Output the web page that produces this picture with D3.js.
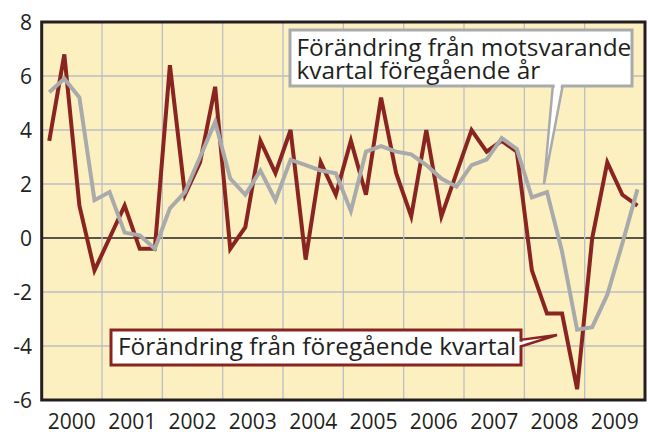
<!DOCTYPE html>
<html>
<head>
<meta charset="utf-8">
<script src="https://d3js.org/d3.v7.min.js"></script>
<style>
  body { margin: 0; background: #fff; }
  svg { display: block; font-family: "Open Sans", sans-serif; }
</style>
</head>
<body>
<div id="chart"></div>
<script>
// Data: quarterly change (%), 2000 Q1 - 2009 Q4
const years = [2000, 2001, 2002, 2003, 2004, 2005, 2006, 2007, 2008, 2009];
const yTicks = [-6, -4, -2, 0, 2, 4, 6, 8];

// Förändring från föregående kvartal
const quarterChange = [
  3.6, 6.8, 1.2, -1.2,
  0.0, 1.2, -0.4, -0.4,
  6.4, 1.6, 2.8, 5.6,
  -0.4, 0.4, 3.6, 2.4,
  4.0, -0.8, 2.8, 1.6,
  3.6, 1.6, 5.2, 2.4,
  0.8, 4.0, 0.8, 2.4,
  4.0, 3.2, 3.6, 3.2,
  -1.2, -2.8, -2.8, -5.6,
  0.0, 2.8, 1.6, 1.2
];

// Förändring från motsvarande kvartal föregående år
const yearChange = [
  5.4, 5.9, 5.2, 1.4,
  1.7, 0.2, 0.1, -0.4,
  1.1, 1.7, 3.0, 4.3,
  2.2, 1.6, 2.5, 1.4,
  2.9, 2.7, 2.5, 2.4,
  1.0, 3.2, 3.4, 3.2,
  3.1, 2.7, 2.2, 1.9,
  2.7, 2.9, 3.7, 3.3,
  1.5, 1.7, -0.5, -3.4,
  -3.3, -2.1, -0.2, 1.8
];

const labelQuarter = "Förändring från föregående kvartal";
const labelYearLines = ["Förändring från motsvarande", "kvartal föregående år"];

const width = 648, height = 434;
const margin = { top: 22, right: 3, bottom: 34, left: 41.7 };

const svg = d3.select("#chart").append("svg")
  .attr("width", width)
  .attr("height", height);

const x = d3.scaleLinear()
  .domain([2000, 2010])
  .range([margin.left, width - margin.right]);

const y = d3.scaleLinear()
  .domain([-6, 8])
  .range([height - margin.bottom, margin.top]);

const tq = i => 2000 + (i + 0.5) / 4;

// background
svg.append("rect")
  .attr("x", x(2000)).attr("y", y(8))
  .attr("width", x(2010) - x(2000))
  .attr("height", y(-6) - y(8))
  .attr("fill", "#fdf0c0");

// grid
svg.append("g")
  .selectAll("line")
  .data(yTicks)
  .enter().append("line")
  .attr("x1", x(2000)).attr("x2", x(2010))
  .attr("y1", d => y(d)).attr("y2", d => y(d))
  .attr("stroke", d => d === 0 ? "#231f20" : "#bcbec6")
  .attr("stroke-width", 1.3);

svg.append("g")
  .selectAll("line")
  .data(years.slice(1))
  .enter().append("line")
  .attr("x1", d => x(d)).attr("x2", d => x(d))
  .attr("y1", y(8)).attr("y2", y(-6))
  .attr("stroke", "#bcbec6")
  .attr("stroke-width", 1.3);

// lines
const line = d3.line()
  .x((d, i) => x(tq(i)))
  .y(d => y(d));

svg.append("path")
  .datum(quarterChange)
  .attr("d", line)
  .attr("fill", "none")
  .attr("stroke", "#8a2421")
  .attr("stroke-width", 4)
  .attr("stroke-linejoin", "miter");

svg.append("path")
  .datum(yearChange)
  .attr("d", line)
  .attr("fill", "none")
  .attr("stroke", "#a9aaac")
  .attr("stroke-width", 4)
  .attr("stroke-linejoin", "miter");

// frame
svg.append("rect")
  .attr("x", x(2000)).attr("y", y(8))
  .attr("width", x(2010) - x(2000))
  .attr("height", y(-6) - y(8))
  .attr("fill", "none")
  .attr("stroke", "#231f20")
  .attr("stroke-width", 3);

// axes labels
svg.append("g")
  .selectAll("text")
  .data(yTicks)
  .enter().append("text")
  .attr("x", 32)
  .attr("y", d => y(d))
  .attr("dy", "0.36em")
  .attr("text-anchor", "end")
  .attr("font-size", "21px")
  .attr("fill", "#231f20")
  .text(d => d);

svg.append("g")
  .selectAll("text")
  .data(years)
  .enter().append("text")
  .attr("x", d => x(d + 0.5))
  .attr("y", 429)
  .attr("text-anchor", "middle")
  .attr("font-size", "21px")
  .attr("fill", "#231f20")
  .text(d => d);

// callout: year-on-year
const g1 = svg.append("g");
g1.append("path")
  .attr("d", "M553,84 L563,84 L544,184 Z")
  .attr("fill", "#fff")
  .attr("stroke", "#a9aaac")
  .attr("stroke-width", 2.5);
g1.append("rect")
  .attr("x", 290).attr("y", 30)
  .attr("width", 342).attr("height", 56)
  .attr("fill", "#fff")
  .attr("stroke", "#a9aaac")
  .attr("stroke-width", 3);
g1.append("path")
  .attr("d", "M554.5,83 L561.5,83 L560,89 L555,89 Z")
  .attr("fill", "#fff");
g1.selectAll("text")
  .data(labelYearLines)
  .enter().append("text")
  .attr("x", 296.5)
  .attr("y", (d, i) => 56 + i * 23)
  .attr("font-size", "24.4px")
  .attr("fill", "#231f20")
  .text(d => d);

// callout: quarter-on-quarter
const g2 = svg.append("g");
g2.append("path")
  .attr("d", "M519,340 L519,347 L557,335 Z")
  .attr("fill", "#fff")
  .attr("stroke", "#8a2421")
  .attr("stroke-width", 2.5);
g2.append("rect")
  .attr("x", 111).attr("y", 330)
  .attr("width", 410).attr("height", 35)
  .attr("fill", "#fff")
  .attr("stroke", "#8a2421")
  .attr("stroke-width", 3);
g2.append("path")
  .attr("d", "M519,341.5 L519,345.5 L524,344 L524,342 Z")
  .attr("fill", "#fff");
g2.append("text")
  .attr("x", 118)
  .attr("y", 355)
  .attr("font-size", "24.4px")
  .attr("fill", "#231f20")
  .text(labelQuarter);
</script>
</body>
</html>
